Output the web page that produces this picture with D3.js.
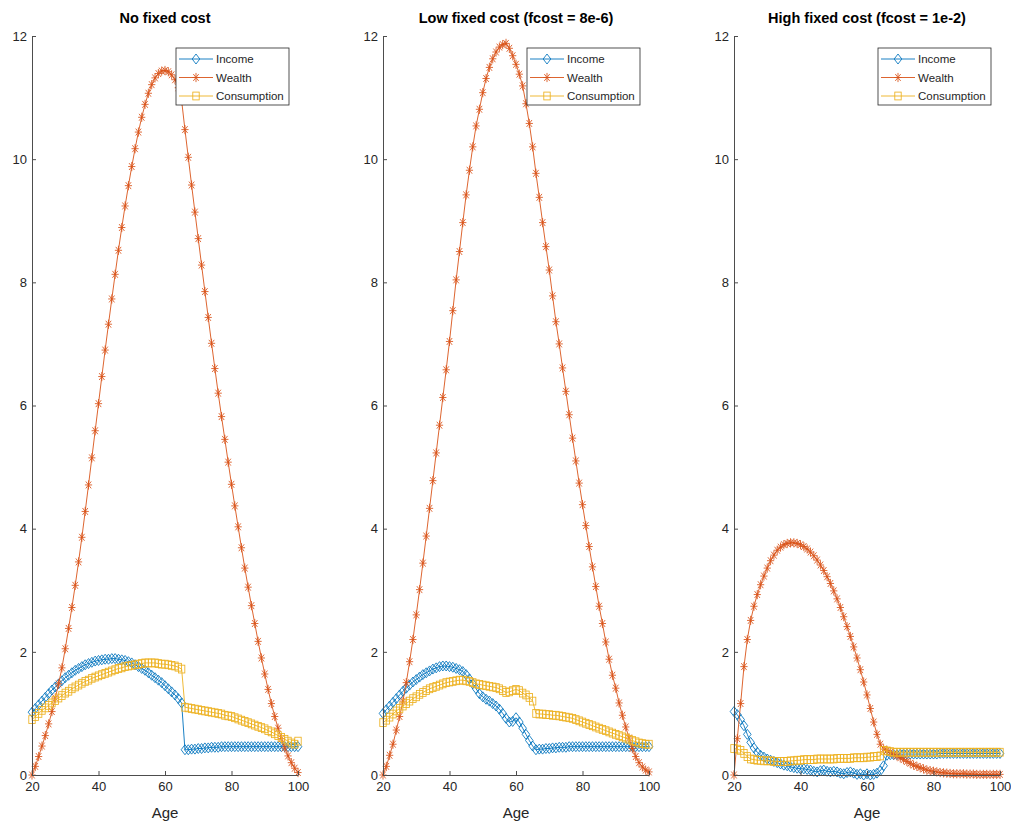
<!DOCTYPE html>
<html>
<head>
<meta charset="utf-8">
<script src="https://cdn.jsdelivr.net/npm/d3@7"></script>
<style>
  html, body { margin: 0; padding: 0; background: #fff; }
  svg { display: block; }
  text { font-family: "Liberation Sans", Arial, sans-serif; }
</style>
</head>
<body>
<svg id="chart" width="1011" height="825"></svg>
<script>
// ---------------- data ----------------
const ages = [20,21,22,23,24,25,26,27,28,29,30,31,32,33,34,35,36,37,38,39,40,41,42,43,44,45,46,47,48,49,
  50,51,52,53,54,55,56,57,58,59,60,61,62,63,64,65,66,67,68,69,70,71,72,73,74,75,76,77,78,79,
  80,81,82,83,84,85,86,87,88,89,90,91,92,93,94,95,96,97,98,99,100];

const panelTitles = ["No fixed cost", "Low fixed cost (fcost = 8e-6)", "High fixed cost (fcost = 1e-2)"];
const seriesNames = ["Income", "Wealth", "Consumption"];
const xTicks = [20, 40, 60, 80, 100];
const yTicks = [0, 2, 4, 6, 8, 10, 12];
const xLabel = "Age";

// Panel 1: no fixed cost
const income1 = [1.02,1.08,1.14,1.2,1.26,1.32,1.38,1.43,1.48,1.53,
  1.58,1.62,1.66,1.7,1.73,1.76,1.79,1.81,1.83,1.85,
  1.86,1.87,1.88,1.88,1.89,1.89,1.88,1.87,1.86,1.84,
  1.82,1.79,1.76,1.73,1.7,1.66,1.62,1.58,1.54,1.5,
  1.45,1.4,1.35,1.3,1.24,1.17,0.41,0.41,0.42,0.42,
  0.43,0.43,0.44,0.44,0.45,0.45,0.45,0.46,0.46,0.46,
  0.46,0.46,0.46,0.46,0.46,0.46,0.46,0.46,0.46,0.46,
  0.46,0.46,0.46,0.46,0.46,0.46,0.46,0.46,0.46,0.46,0.46];
const wealth1 = [0,0.14,0.3,0.47,0.64,0.83,1.03,1.25,1.48,1.74,
  2.05,2.38,2.72,3.08,3.46,3.86,4.28,4.71,5.15,5.59,
  6.03,6.47,6.9,7.32,7.73,8.13,8.52,8.89,9.24,9.57,
  9.88,10.17,10.44,10.68,10.89,11.07,11.21,11.32,11.39,11.43,
  11.44,11.42,11.37,11.29,11.16,10.95,10.48,10.03,9.58,9.14,
  8.71,8.28,7.85,7.43,7.01,6.6,6.2,5.82,5.45,5.08,
  4.72,4.37,4.03,3.69,3.36,3.05,2.75,2.46,2.17,1.9,
  1.64,1.39,1.16,0.95,0.76,0.59,0.44,0.31,0.2,0.11,0.04];
const cons1 = [0.9,0.95,1.0,1.05,1.09,1.13,1.17,1.21,1.25,1.29,
  1.33,1.36,1.4,1.43,1.46,1.49,1.52,1.54,1.57,1.59,
  1.61,1.63,1.65,1.67,1.69,1.71,1.73,1.74,1.76,1.77,
  1.78,1.79,1.8,1.81,1.82,1.82,1.82,1.82,1.81,1.8,
  1.8,1.79,1.78,1.77,1.75,1.72,1.1,1.09,1.08,1.07,
  1.06,1.05,1.04,1.03,1.02,1.01,1.0,0.99,0.97,0.96,
  0.95,0.93,0.91,0.89,0.87,0.85,0.83,0.81,0.79,0.77,
  0.75,0.72,0.7,0.67,0.64,0.61,0.58,0.55,0.52,0.5,0.55];

// Panel 2: low fixed cost
const income2 = [1.0,1.06,1.12,1.18,1.24,1.3,1.36,1.41,1.46,1.51,
  1.55,1.59,1.63,1.66,1.69,1.72,1.74,1.76,1.77,1.77,
  1.76,1.75,1.73,1.71,1.68,1.63,1.56,1.48,1.4,1.32,
  1.27,1.23,1.2,1.16,1.12,1.07,1.0,0.92,0.86,0.87,
  0.93,0.86,0.76,0.66,0.56,0.47,0.41,0.42,0.42,0.43,
  0.43,0.44,0.44,0.45,0.45,0.45,0.46,0.46,0.46,0.46,
  0.46,0.46,0.46,0.46,0.46,0.46,0.46,0.46,0.46,0.46,
  0.46,0.46,0.46,0.46,0.46,0.46,0.46,0.46,0.46,0.46,0.46];
const wealth2 = [0,0.14,0.32,0.5,0.73,0.95,1.2,1.5,1.84,2.2,
  2.6,3.01,3.44,3.88,4.33,4.78,5.23,5.68,6.13,6.58,
  7.04,7.54,8.04,8.5,8.97,9.42,9.82,10.2,10.54,10.81,
  11.08,11.31,11.49,11.63,11.74,11.82,11.86,11.88,11.8,11.68,
  11.54,11.38,11.19,10.9,10.58,10.2,9.77,9.38,8.97,8.58,
  8.2,7.78,7.36,7.0,6.61,6.23,5.85,5.47,5.1,4.74,
  4.39,4.05,3.71,3.38,3.06,2.74,2.46,2.16,1.88,1.62,
  1.41,1.17,0.97,0.78,0.6,0.43,0.3,0.2,0.13,0.08,0.05];
const cons2 = [0.85,0.89,0.94,0.99,1.04,1.08,1.12,1.16,1.2,1.24,
  1.27,1.31,1.34,1.37,1.4,1.42,1.44,1.46,1.48,1.5,
  1.51,1.52,1.53,1.54,1.54,1.53,1.52,1.5,1.48,1.47,
  1.46,1.45,1.44,1.43,1.42,1.4,1.37,1.34,1.35,1.37,
  1.39,1.37,1.33,1.3,1.26,1.2,1.0,0.99,0.99,0.98,
  0.98,0.97,0.97,0.96,0.95,0.94,0.93,0.92,0.9,0.88,
  0.86,0.84,0.82,0.8,0.78,0.76,0.74,0.72,0.7,0.68,
  0.66,0.64,0.62,0.6,0.58,0.56,0.54,0.52,0.51,0.5,0.5];

// Panel 3: high fixed cost
const income3 = [1.03,0.98,0.9,0.8,0.66,0.53,0.44,0.37,0.32,0.29,
  0.26,0.24,0.22,0.2,0.18,0.16,0.15,0.13,0.12,0.11,
  0.1,0.1,0.09,0.08,0.06,0.05,0.07,0.08,0.06,0.05,
  0.06,0.05,0.03,0.02,0.04,0.05,0.03,0.01,0.02,0.0,
  0.02,0.0,0.01,0.03,0.07,0.15,0.32,0.33,0.33,0.33,
  0.34,0.34,0.34,0.34,0.34,0.34,0.34,0.34,0.34,0.34,
  0.34,0.34,0.35,0.35,0.35,0.35,0.35,0.35,0.35,0.35,
  0.35,0.35,0.35,0.35,0.35,0.35,0.35,0.35,0.35,0.35,0.35];
const wealth3 = [0,0.59,1.16,1.76,2.2,2.51,2.74,2.93,3.09,3.23,
  3.36,3.48,3.57,3.65,3.7,3.74,3.76,3.77,3.77,3.76,
  3.74,3.71,3.67,3.62,3.56,3.49,3.41,3.32,3.22,3.11,
  2.99,2.86,2.72,2.57,2.41,2.25,2.08,1.9,1.71,1.51,
  1.3,1.08,0.86,0.66,0.5,0.42,0.4,0.37,0.34,0.31,
  0.28,0.25,0.22,0.19,0.16,0.14,0.12,0.1,0.08,0.07,
  0.06,0.05,0.04,0.035,0.03,0.025,0.02,0.02,0.02,0.02,
  0.015,0.015,0.015,0.01,0.01,0.01,0.01,0.01,0.01,0.01,0.01];
const cons3 = [0.43,0.42,0.4,0.35,0.3,0.26,0.25,0.24,0.24,0.23,
  0.23,0.23,0.22,0.22,0.22,0.22,0.22,0.23,0.23,0.24,
  0.24,0.25,0.25,0.25,0.25,0.26,0.26,0.26,0.26,0.26,
  0.26,0.27,0.27,0.27,0.27,0.27,0.28,0.28,0.28,0.28,
  0.29,0.29,0.3,0.3,0.31,0.4,0.39,0.38,0.37,0.37,
  0.37,0.37,0.37,0.37,0.37,0.37,0.37,0.37,0.37,0.37,
  0.37,0.37,0.37,0.37,0.37,0.37,0.37,0.37,0.37,0.37,
  0.37,0.37,0.37,0.37,0.37,0.37,0.37,0.37,0.37,0.37,0.37];

const panelSeries = [
  [income1, wealth1, cons1],
  [income2, wealth2, cons2],
  [income3, wealth3, cons3]
];

// ---------------- styles / layout ----------------
const colors = ["#0072BD", "#D95319", "#EDB120"];
const markerTypes = ["diamond", "asterisk", "square"];
const panelX = [[32, 298], [383, 649], [734, 1000]];
const plotTop = 36, plotBottom = 775;
const axisColor = "#4d4d4d";
const textColor = "#262626";

const svg = d3.select("#chart");
svg.append("rect").attr("width", 1011).attr("height", 825).attr("fill", "#fff");

const y = d3.scaleLinear().domain([0, 12]).range([plotBottom, plotTop]);

function drawMarker(g, type, cx, cy, color) {
  if (type === "diamond") {
    const w = 3.8, h = 5.0;
    g.append("path")
      .attr("d", `M${cx},${cy-h}L${cx+w},${cy}L${cx},${cy+h}L${cx-w},${cy}Z`)
      .attr("fill", "none").attr("stroke", color).attr("stroke-width", 0.85);
  } else if (type === "square") {
    const w = 3.2, h = 3.9;
    g.append("rect").attr("x", cx - w).attr("y", cy - h).attr("width", 2*w).attr("height", 2*h)
      .attr("fill", "none").attr("stroke", color).attr("stroke-width", 0.85);
  } else {
    const w = 3.6, h = 4.6;
    const d = `M${cx},${cy-h}L${cx},${cy+h}M${cx-w},${cy}L${cx+w},${cy}` +
      `M${cx-w*0.75},${cy-h*0.75}L${cx+w*0.75},${cy+h*0.75}M${cx-w*0.75},${cy+h*0.75}L${cx+w*0.75},${cy-h*0.75}`;
    g.append("path").attr("d", d).attr("fill", "none").attr("stroke", color).attr("stroke-width", 0.85);
  }
}

panelX.forEach((rng, p) => {
  const x = d3.scaleLinear().domain([20, 100]).range(rng);
  const g = svg.append("g");

  // series
  panelSeries[p].forEach((vals, s) => {
    const pts = ages.map((a, i) => [a, vals[i]]);
    const line = d3.line().x(d => x(d[0])).y(d => y(d[1]));
    g.append("path").datum(pts).attr("d", line)
      .attr("fill", "none").attr("stroke", colors[s]).attr("stroke-width", 0.9);
    const mg = g.append("g");
    pts.forEach(d => drawMarker(mg, markerTypes[s], x(d[0]), y(d[1]), colors[s]));
  });

  // axes
  const yAxis = d3.axisLeft(y).tickValues(yTicks).tickSizeInner(-4).tickSizeOuter(0).tickPadding(5);
  const xAxis = d3.axisBottom(x).tickValues(xTicks).tickSizeInner(-4).tickSizeOuter(0).tickPadding(7);
  const ga = g.append("g").attr("transform", `translate(${rng[0]},0)`).call(yAxis);
  const gb = g.append("g").attr("transform", `translate(0,${plotBottom})`).call(xAxis);
  [ga, gb].forEach(a => {
    a.select(".domain").attr("stroke", axisColor).attr("stroke-width", 1);
    a.selectAll(".tick line").attr("stroke", axisColor).attr("stroke-width", 1);
    a.selectAll(".tick text").attr("fill", textColor).style("font-size", "13px")
      .style("font-family", '"Liberation Sans", Arial, sans-serif');
  });

  // x label
  g.append("text").attr("x", (rng[0] + rng[1]) / 2).attr("y", 818)
    .attr("text-anchor", "middle").attr("fill", textColor).style("font-size", "15px").text(xLabel);

  // title
  g.append("text").attr("x", (rng[0] + rng[1]) / 2).attr("y", 23)
    .attr("text-anchor", "middle").attr("fill", "#000").style("font-size", "14.5px")
    .style("font-weight", "bold").text(panelTitles[p]);

  // legend
  const lx0 = rng[1] - 122, ly0 = 48, lw = 113, lh = 57;
  const lg = g.append("g");
  lg.append("rect").attr("x", lx0).attr("y", ly0).attr("width", lw).attr("height", lh)
    .attr("fill", "#fff").attr("stroke", "#262626").attr("stroke-width", 0.8);
  seriesNames.forEach((name, s) => {
    const cy = ly0 + 11 + s * 18.5;
    lg.append("line").attr("x1", lx0 + 3).attr("x2", lx0 + 37).attr("y1", cy).attr("y2", cy)
      .attr("stroke", colors[s]).attr("stroke-width", 0.9);
    drawMarker(lg, markerTypes[s], lx0 + 20, cy, colors[s]);
    lg.append("text").attr("x", lx0 + 40).attr("y", cy + 4).attr("fill", textColor)
      .style("font-size", "11.5px").text(name);
  });
});
</script>
</body>
</html>
